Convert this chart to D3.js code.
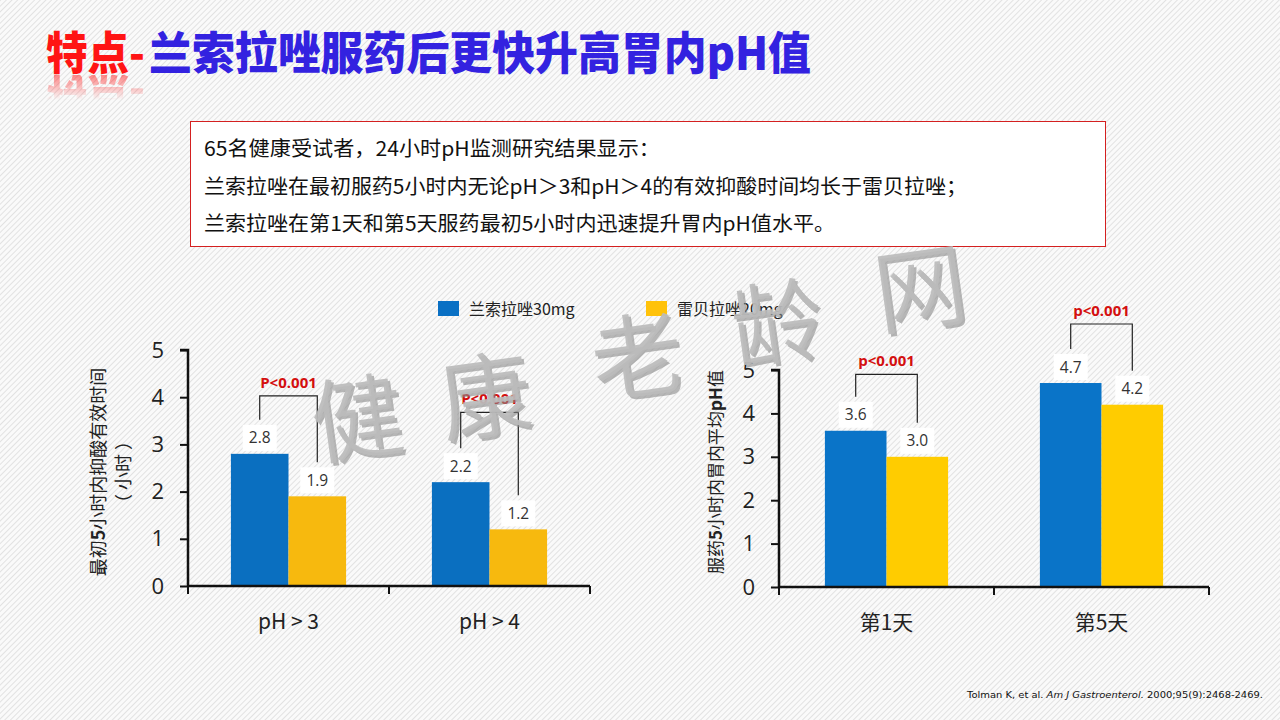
<!DOCTYPE html>
<html>
<head>
<meta charset="utf-8">
<script src="https://cdn.jsdelivr.net/npm/d3@7"></script>
<style>
  html, body { margin: 0; padding: 0; background: #fff; }
  svg { display: block; }
</style>
</head>
<body>
<svg id="chart" width="1280" height="720"></svg>
<script>
// ---------------- DATA ----------------
const seriesNames = ["兰索拉唑30mg", "雷贝拉唑20mg"];
const yTickValues = [0, 1, 2, 3, 4, 5];

const leftCategories = ["pH > 3", "pH > 4"];
const leftLansoprazole = [2.8, 2.2];
const leftRabeprazole = [1.9, 1.2];
const leftPLabels = ["P<0.001", "P<0.001"];
const leftBracketTop = [4.03, 3.68];

const rightCategories = ["第1天", "第5天"];
const rightLansoprazole = [3.6, 4.7];
const rightRabeprazole = [3.0, 4.2];
const rightPLabels = ["p<0.001", "p<0.001"];
const rightBracketTop = [4.9, 6.06];

const titleRed = "特点-";
const titleBlue = "兰索拉唑服药后更快升高胃内pH值";
const summaryLines = [
  "65名健康受试者，24小时pH监测研究结果显示：",
  "兰索拉唑在最初服药5小时内无论pH＞3和pH＞4的有效抑酸时间均长于雷贝拉唑；",
  "兰索拉唑在第1天和第5天服药最初5小时内迅速提升胃内pH值水平。"
];
const watermarkChars = ["健", "康", "老", "龄", "网"];

// ---------------- SETUP ----------------
const svg = d3.select("#chart");
const FONT = "'Noto Sans CJK SC', 'Noto Sans', sans-serif";
const NUMFONT = "'Open Sans', 'Noto Sans', sans-serif";
const defs = svg.append("defs");

const pat = defs.append("pattern").attr("id", "hatch")
  .attr("width", 4).attr("height", 4)
  .attr("patternUnits", "userSpaceOnUse")
  .attr("patternTransform", "rotate(45)");
pat.append("rect").attr("width", 4).attr("height", 4).attr("fill", "#fafafa");
pat.append("line").attr("x1", 0).attr("y1", 0).attr("x2", 0).attr("y2", 4)
  .attr("stroke", "#d2d2d2").attr("stroke-width", 1.2);

// fade mask for title reflection (page coordinates)
const fadeGrad = defs.append("linearGradient").attr("id", "fadeGrad")
  .attr("gradientUnits", "userSpaceOnUse")
  .attr("x1", 0).attr("y1", 75).attr("x2", 0).attr("y2", 100);
fadeGrad.append("stop").attr("offset", "0%").attr("stop-color", "#fff").attr("stop-opacity", 0.5);
fadeGrad.append("stop").attr("offset", "100%").attr("stop-color", "#fff").attr("stop-opacity", 0);
defs.append("mask").attr("id", "fadeMask").attr("maskUnits", "userSpaceOnUse")
  .attr("maskContentUnits", "userSpaceOnUse")
  .attr("x", 0).attr("y", 0).attr("width", 1280).attr("height", 720)
  .append("rect").attr("x", 0).attr("y", 75).attr("width", 400).attr("height", 30)
  .attr("fill", "url(#fadeGrad)");

svg.append("rect").attr("width", 1280).attr("height", 720).attr("fill", "url(#hatch)");

// ---------------- TITLE ----------------
const title = svg.append("g");
// reflection: a mirrored reference to the red title text, faded out downward
title.append("g").attr("mask", "url(#fadeMask)")
  .append("use").attr("href", "#titleRed")
  .attr("transform", "translate(0,148) scale(1,-1)");
title.append("text").attr("id", "titleRed").attr("x", 46).attr("y", 70)
  .attr("font-family", FONT).attr("font-weight", 900).attr("font-size", 45)
  .attr("fill", "#ff1414").attr("textLength", 99).attr("lengthAdjust", "spacingAndGlyphs")
  .text(titleRed);
title.append("text").attr("x", 149).attr("y", 70)
  .attr("font-family", FONT).attr("font-weight", 900).attr("font-size", 45)
  .attr("fill", "#3322e0").attr("textLength", 662).attr("lengthAdjust", "spacingAndGlyphs")
  .text(titleBlue);

// ---------------- SUMMARY BOX ----------------
svg.append("rect").attr("x", 190.5).attr("y", 121.5).attr("width", 915).attr("height", 125)
  .attr("fill", "#ffffff").attr("stroke", "#d42020").attr("stroke-width", 1);
const lineLens = [456, 763, 631];
svg.selectAll("text.summary").data(summaryLines).join("text")
  .attr("class", "summary")
  .attr("x", 204).attr("y", (d, i) => 156 + i * 37.5)
  .attr("font-family", FONT).attr("font-size", 20.5).attr("fill", "#111")
  .attr("textLength", (d, i) => lineLens[i]).attr("lengthAdjust", "spacingAndGlyphs")
  .text(d => d);

// ---------------- LEGEND ----------------
const legendColors = ["#0a70c4", "#ffc20a"];
const legendX = [438, 646];
const legend = svg.append("g");
seriesNames.forEach((name, i) => {
  legend.append("rect").attr("x", legendX[i]).attr("y", 301).attr("width", 21).attr("height", 15)
    .attr("fill", legendColors[i]);
  legend.append("text").attr("x", legendX[i] + 31).attr("y", 314.5)
    .attr("font-family", FONT).attr("font-size", 16).attr("fill", "#222")
    .text(name);
});

// ---------------- CHARTS ----------------
function drawChart(opts) {
  const g = svg.append("g");
  const x = d3.scaleBand().domain(opts.categories).range([opts.x0, opts.x1]).padding(0);
  const sub = d3.scaleBand().domain([0, 1])
    .range([x.bandwidth() * 0.2135, x.bandwidth() * 0.7865]).padding(0);
  const y = d3.scaleLinear().domain([0, 5]).range([opts.y0, opts.y5]);

  const rows = opts.categories.map((c, i) => ({
    cat: c, vals: [opts.a[i], opts.b[i]], p: opts.p[i], top: opts.top[i]
  }));

  // bars
  rows.forEach(r => {
    r.vals.forEach((v, j) => {
      g.append("rect")
        .attr("x", x(r.cat) + sub(j)).attr("y", y(v))
        .attr("width", sub.bandwidth()).attr("height", y(0) - y(v))
        .attr("fill", opts.colors[j]);
    });
  });

  // y axis
  const yAxis = d3.axisLeft(y).tickValues(yTickValues).tickSize(8).tickPadding(16)
    .tickFormat(d3.format("d"));
  const ya = g.append("g").attr("transform", `translate(${opts.x0},0)`).call(yAxis);
  ya.select(".domain").attr("stroke", "#111").attr("stroke-width", 2.5)
    .attr("d", `M-8,${opts.y5}H0V${opts.y0}`);
  ya.selectAll(".tick line").attr("stroke", "#111").attr("stroke-width", 2);
  ya.selectAll(".tick text").attr("font-family", NUMFONT).attr("font-size", 22)
    .attr("fill", "#222");

  // x axis line + boundary ticks
  const bounds = opts.categories.map(c => x(c)).concat([opts.x1]);
  g.append("line").attr("x1", opts.x0).attr("x2", opts.x1)
    .attr("y1", y(0)).attr("y2", y(0)).attr("stroke", "#111").attr("stroke-width", 2.5);
  g.selectAll("line.xt").data(bounds).join("line").attr("class", "xt")
    .attr("x1", d => d).attr("x2", d => d)
    .attr("y1", y(0)).attr("y2", y(0) + 8)
    .attr("stroke", "#111").attr("stroke-width", 2);
  g.selectAll("text.xl").data(opts.categories).join("text").attr("class", "xl")
    .attr("x", d => x(d) + x.bandwidth() / 2).attr("y", y(0) + 43)
    .attr("text-anchor", "middle")
    .attr("font-family", FONT).attr("font-size", 21).attr("fill", "#222")
    .text(d => d);

  // value labels, brackets, p-values
  rows.forEach(r => {
    const cx = r.vals.map((v, j) => x(r.cat) + sub(j) + sub.bandwidth() / 2);
    r.vals.forEach((v, j) => {
      const cy = y(v) - 16;
      g.append("rect").attr("x", cx[j] - 17).attr("y", cy - 13)
        .attr("width", 34).attr("height", 26).attr("fill", "#ffffff");
      g.append("text").attr("x", cx[j]).attr("y", cy + 5.5)
        .attr("text-anchor", "middle")
        .attr("font-family", NUMFONT).attr("font-size", 15.5).attr("fill", "#333")
        .text(d3.format(".1f")(v));
    });
    const ty = y(r.top);
    g.append("path")
      .attr("d", `M${cx[0]},${y(r.vals[0]) - 34}V${ty}H${cx[1]}V${y(r.vals[1]) - 34}`)
      .attr("fill", "none").attr("stroke", "#222").attr("stroke-width", 1.2);
    g.append("text").attr("x", (cx[0] + cx[1]) / 2).attr("y", ty - 8)
      .attr("text-anchor", "middle")
      .attr("font-family", NUMFONT).attr("font-weight", 700).attr("font-size", 15)
      .attr("fill", "#d40f0f")
      .text(r.p);
  });

  // y title
  opts.yTitle.forEach((parts, li) => {
    const t = g.append("text")
      .attr("transform", `translate(${opts.yTitleX[li]},${opts.yTitleY}) rotate(-90)`)
      .attr("text-anchor", "middle")
      .attr("font-family", FONT).attr("font-size", opts.yTitleSize).attr("fill", "#222");
    parts.forEach(p => {
      t.append("tspan").attr("font-weight", p.b ? 700 : 400).text(p.t);
    });
  });
}

drawChart({
  categories: leftCategories, a: leftLansoprazole, b: leftRabeprazole,
  p: leftPLabels, top: leftBracketTop,
  x0: 188, x1: 590, y0: 586, y5: 350,
  colors: ["#0a6fc0", "#f7b90e"],
  yTitle: [[{t: "最初"}, {t: "5", b: true}, {t: "小时内抑酸有效时间"}], [{t: "（ 小时 ）"}]],
  yTitleX: [105, 130], yTitleY: 472, yTitleSize: 18
});

drawChart({
  categories: rightCategories, a: rightLansoprazole, b: rightRabeprazole,
  p: rightPLabels, top: rightBracketTop,
  x0: 779, x1: 1209, y0: 587, y5: 370,
  colors: ["#0a74c8", "#ffcc00"],
  yTitle: [[{t: "服药"}, {t: "5", b: true}, {t: "小时内胃内平均"}, {t: "pH", b: true}, {t: "值"}]],
  yTitleX: [722], yTitleY: 472, yTitleSize: 17
});

// ---------------- WATERMARK ----------------
const wmPos = [[362, 420], [490, 398], [642, 358], [782, 325], [925, 290]];
const wm = svg.append("g").attr("pointer-events", "none");
watermarkChars.forEach((ch, i) => {
  const [cx, cy] = wmPos[i];
  wm.append("text").attr("transform", `translate(${cx + 2.5},${cy + 34.5}) rotate(-8)`)
    .attr("text-anchor", "middle").attr("font-family", FONT).attr("font-weight", 350)
    .attr("font-size", 92).attr("fill", "#8a8a8a").attr("opacity", 0.6).text(ch);
  wm.append("text").attr("transform", `translate(${cx},${cy + 32}) rotate(-8)`)
    .attr("text-anchor", "middle").attr("font-family", FONT).attr("font-weight", 350)
    .attr("font-size", 92).attr("fill", "#bcbcbc").attr("opacity", 0.92).text(ch);
});

// ---------------- CITATION ----------------
const cite = svg.append("text").attr("x", 967).attr("y", 698)
  .attr("font-family", "'DejaVu Sans', sans-serif").attr("font-size", 9.5).attr("fill", "#111")
  .attr("textLength", 296).attr("lengthAdjust", "spacingAndGlyphs");
cite.append("tspan").text("Tolman K, et al. ");
cite.append("tspan").attr("font-style", "italic").text("Am J Gastroenterol.");
cite.append("tspan").text(" 2000;95(9):2468-2469.");
</script>
</body>
</html>
